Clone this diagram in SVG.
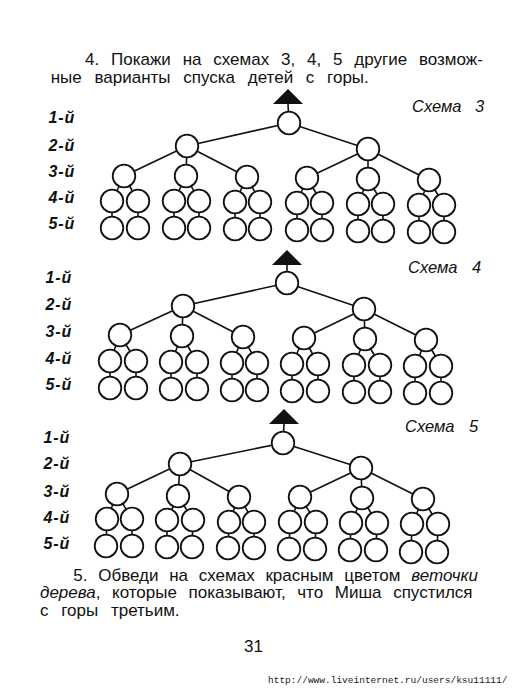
<svg xmlns="http://www.w3.org/2000/svg" width="530" height="699" viewBox="0 0 530 699">
<style>
.n{fill:#fff;stroke:#111;stroke-width:1.8}
.e{stroke:#111;stroke-width:1.6;fill:none}
.tri{fill:#111}
.t{font-family:"Liberation Sans",Arial,sans-serif;font-size:17px;fill:#111}
.i{font-style:italic}
.lv{font-family:"Liberation Sans",Arial,sans-serif;font-size:16px;font-weight:bold;font-style:italic;letter-spacing:0.8px;text-anchor:end;fill:#111}
.sch{font-family:"Liberation Sans",Arial,sans-serif;font-size:16.5px;font-style:italic;fill:#111}
.url{font-family:"Liberation Mono","Courier New",monospace;font-size:9.5px;fill:#222}
</style>
<rect width="530" height="699" fill="#fff"/>

<!-- texts -->
<g id="texts">
<text class="t" x="85" y="65" word-spacing="7.1">4. Покажи на схемах 3, 4, 5 другие возмож-</text>
<text class="t" x="50.7" y="82.5" word-spacing="8">ные варианты спуска детей с горы.</text>
<text class="t" x="73.3" y="581" word-spacing="6">5. Обведи на схемах красным цветом <tspan class="i">веточки</tspan></text>
<text class="t" x="40" y="598" word-spacing="6.9"><tspan class="i">дерева</tspan>, которые показывают, что Миша спустился</text>
<text class="t" x="40" y="616" word-spacing="8">с горы  третьим.</text>
<text class="t" x="244" y="652">31</text>
<text class="url" x="268" y="683">http://www.liveinternet.ru/users/ksu11111/</text>
</g>

<!-- level labels -->
<g id="labels">
<text class="lv" x="75" y="123">1-й</text>
<text class="lv" x="75" y="151">2-й</text>
<text class="lv" x="75" y="177">3-й</text>
<text class="lv" x="75" y="203">4-й</text>
<text class="lv" x="75" y="229">5-й</text>
<text class="lv" x="72" y="283">1-й</text>
<text class="lv" x="72" y="310">2-й</text>
<text class="lv" x="72" y="337">3-й</text>
<text class="lv" x="72" y="364">4-й</text>
<text class="lv" x="72" y="390">5-й</text>
<text class="lv" x="70" y="443">1-й</text>
<text class="lv" x="70" y="469">2-й</text>
<text class="lv" x="70" y="497">3-й</text>
<text class="lv" x="70" y="523">4-й</text>
<text class="lv" x="70" y="549">5-й</text>
<text class="sch" x="412" y="112">Схема<tspan x="475">3</tspan></text>
<text class="sch" x="408" y="273">Схема<tspan x="472">4</tspan></text>
<text class="sch" x="405" y="432">Схема<tspan x="469">5</tspan></text>
</g>

<!-- connectors -->
<g id="connectors" class="e">
<!-- scheme 3 -->
<line x1="288" y1="104" x2="289" y2="123"/>
<line x1="289" y1="123" x2="187" y2="146"/>
<line x1="289" y1="123" x2="368" y2="149"/>
<line x1="187" y1="146" x2="124" y2="176"/>
<line x1="187" y1="146" x2="186" y2="176"/>
<line x1="187" y1="146" x2="247" y2="177"/>
<line x1="368" y1="149" x2="307" y2="178"/>
<line x1="368" y1="149" x2="368" y2="179"/>
<line x1="368" y1="149" x2="429" y2="180"/>
<line x1="124" y1="176" x2="112" y2="201"/>
<line x1="124" y1="176" x2="138" y2="201"/>
<line x1="186" y1="176" x2="174" y2="201"/>
<line x1="186" y1="176" x2="199" y2="201"/>
<line x1="247" y1="177" x2="235" y2="202"/>
<line x1="247" y1="177" x2="260" y2="202"/>
<line x1="307" y1="178" x2="297" y2="203"/>
<line x1="307" y1="178" x2="322" y2="203"/>
<line x1="368" y1="179" x2="358" y2="204"/>
<line x1="368" y1="179" x2="383" y2="204"/>
<line x1="429" y1="180" x2="419" y2="205"/>
<line x1="429" y1="180" x2="444" y2="205"/>
<line x1="112" y1="201" x2="112" y2="228"/>
<line x1="138" y1="201" x2="138" y2="228"/>
<line x1="174" y1="201" x2="174" y2="228"/>
<line x1="199" y1="201" x2="199" y2="228"/>
<line x1="235" y1="202" x2="235" y2="229"/>
<line x1="260" y1="202" x2="260" y2="229"/>
<line x1="297" y1="203" x2="297" y2="230"/>
<line x1="322" y1="203" x2="322" y2="230"/>
<line x1="358" y1="204" x2="358" y2="231"/>
<line x1="383" y1="204" x2="383" y2="231"/>
<line x1="419" y1="205" x2="419" y2="232"/>
<line x1="444" y1="205" x2="444" y2="232"/>
<!-- scheme 4 -->
<line x1="287" y1="265" x2="287" y2="283"/>
<line x1="287" y1="283" x2="183" y2="306"/>
<line x1="287" y1="283" x2="364" y2="309"/>
<line x1="183" y1="306" x2="120" y2="335"/>
<line x1="183" y1="306" x2="182" y2="336"/>
<line x1="183" y1="306" x2="243" y2="337"/>
<line x1="364" y1="309" x2="304" y2="338"/>
<line x1="364" y1="309" x2="365" y2="339"/>
<line x1="364" y1="309" x2="426" y2="340"/>
<line x1="120" y1="335" x2="110" y2="361"/>
<line x1="120" y1="335" x2="136" y2="361"/>
<line x1="182" y1="336" x2="171" y2="362"/>
<line x1="182" y1="336" x2="197" y2="362"/>
<line x1="243" y1="337" x2="232" y2="363"/>
<line x1="243" y1="337" x2="257" y2="363"/>
<line x1="304" y1="338" x2="292" y2="364"/>
<line x1="304" y1="338" x2="318" y2="364"/>
<line x1="365" y1="339" x2="354" y2="365"/>
<line x1="365" y1="339" x2="380" y2="365"/>
<line x1="426" y1="340" x2="415" y2="366"/>
<line x1="426" y1="340" x2="441" y2="366"/>
<line x1="110" y1="361" x2="110" y2="388"/>
<line x1="136" y1="361" x2="136" y2="388"/>
<line x1="171" y1="362" x2="171" y2="389"/>
<line x1="197" y1="362" x2="197" y2="389"/>
<line x1="232" y1="363" x2="232" y2="390"/>
<line x1="257" y1="363" x2="257" y2="390"/>
<line x1="292" y1="364" x2="292" y2="391"/>
<line x1="318" y1="364" x2="318" y2="391"/>
<line x1="354" y1="365" x2="354" y2="392"/>
<line x1="380" y1="365" x2="380" y2="392"/>
<line x1="415" y1="366" x2="415" y2="393"/>
<line x1="441" y1="366" x2="441" y2="393"/>
<!-- scheme 5 -->
<line x1="284" y1="424" x2="283" y2="443"/>
<line x1="283" y1="443" x2="180" y2="464"/>
<line x1="283" y1="443" x2="361" y2="468"/>
<line x1="180" y1="464" x2="117" y2="494"/>
<line x1="180" y1="464" x2="178" y2="496"/>
<line x1="180" y1="464" x2="239" y2="497"/>
<line x1="361" y1="468" x2="300" y2="497"/>
<line x1="361" y1="468" x2="362" y2="498"/>
<line x1="361" y1="468" x2="423" y2="499"/>
<line x1="117" y1="494" x2="107" y2="519"/>
<line x1="117" y1="494" x2="132" y2="519"/>
<line x1="178" y1="496" x2="167" y2="520"/>
<line x1="178" y1="496" x2="193" y2="520"/>
<line x1="239" y1="497" x2="229" y2="522"/>
<line x1="239" y1="497" x2="254" y2="522"/>
<line x1="300" y1="497" x2="290" y2="522"/>
<line x1="300" y1="497" x2="316" y2="522"/>
<line x1="362" y1="498" x2="351" y2="523"/>
<line x1="362" y1="498" x2="377" y2="523"/>
<line x1="423" y1="499" x2="412" y2="524"/>
<line x1="423" y1="499" x2="438" y2="524"/>
<line x1="107" y1="519" x2="106" y2="546"/>
<line x1="132" y1="519" x2="132" y2="546"/>
<line x1="167" y1="520" x2="167" y2="547"/>
<line x1="193" y1="520" x2="192" y2="547"/>
<line x1="229" y1="522" x2="228" y2="548"/>
<line x1="254" y1="522" x2="254" y2="548"/>
<line x1="290" y1="522" x2="289" y2="549"/>
<line x1="316" y1="522" x2="315" y2="549"/>
<line x1="351" y1="523" x2="350" y2="550"/>
<line x1="377" y1="523" x2="376" y2="550"/>
<line x1="412" y1="524" x2="411" y2="552"/>
<line x1="438" y1="524" x2="437" y2="552"/>
</g>

<!-- scheme 3 nodes -->
<g id="s3-top"><polygon class="tri" points="288,89 273,104 303,104"/></g>
<g id="s3-r"><circle class="n" cx="289" cy="123" r="11.3"/></g>
<g id="s3-a"><circle class="n" cx="187" cy="146" r="11.3"/></g>
<g id="s3-b"><circle class="n" cx="368" cy="149" r="11.3"/></g>
<g id="s3-a1"><circle class="n" cx="124" cy="176" r="11.3"/></g>
<g id="s3-a2"><circle class="n" cx="186" cy="176" r="11.3"/></g>
<g id="s3-a3"><circle class="n" cx="247" cy="177" r="11.3"/></g>
<g id="s3-b1"><circle class="n" cx="307" cy="178" r="11.3"/></g>
<g id="s3-b2"><circle class="n" cx="368" cy="179" r="11.3"/></g>
<g id="s3-b3"><circle class="n" cx="429" cy="180" r="11.3"/></g>
<g id="s3-a1l"><circle class="n" cx="112" cy="201" r="11.3"/></g>
<g id="s3-a1r"><circle class="n" cx="138" cy="201" r="11.3"/></g>
<g id="s3-a2l"><circle class="n" cx="174" cy="201" r="11.3"/></g>
<g id="s3-a2r"><circle class="n" cx="199" cy="201" r="11.3"/></g>
<g id="s3-a3l"><circle class="n" cx="235" cy="202" r="11.3"/></g>
<g id="s3-a3r"><circle class="n" cx="260" cy="202" r="11.3"/></g>
<g id="s3-b1l"><circle class="n" cx="297" cy="203" r="11.3"/></g>
<g id="s3-b1r"><circle class="n" cx="322" cy="203" r="11.3"/></g>
<g id="s3-b2l"><circle class="n" cx="358" cy="204" r="11.3"/></g>
<g id="s3-b2r"><circle class="n" cx="383" cy="204" r="11.3"/></g>
<g id="s3-b3l"><circle class="n" cx="419" cy="205" r="11.3"/></g>
<g id="s3-b3r"><circle class="n" cx="444" cy="205" r="11.3"/></g>
<g id="s3-a1l5"><circle class="n" cx="112" cy="228" r="11.3"/></g>
<g id="s3-a1r5"><circle class="n" cx="138" cy="228" r="11.3"/></g>
<g id="s3-a2l5"><circle class="n" cx="174" cy="228" r="11.3"/></g>
<g id="s3-a2r5"><circle class="n" cx="199" cy="228" r="11.3"/></g>
<g id="s3-a3l5"><circle class="n" cx="235" cy="229" r="11.3"/></g>
<g id="s3-a3r5"><circle class="n" cx="260" cy="229" r="11.3"/></g>
<g id="s3-b1l5"><circle class="n" cx="297" cy="230" r="11.3"/></g>
<g id="s3-b1r5"><circle class="n" cx="322" cy="230" r="11.3"/></g>
<g id="s3-b2l5"><circle class="n" cx="358" cy="231" r="11.3"/></g>
<g id="s3-b2r5"><circle class="n" cx="383" cy="231" r="11.3"/></g>
<g id="s3-b3l5"><circle class="n" cx="419" cy="232" r="11.3"/></g>
<g id="s3-b3r5"><circle class="n" cx="444" cy="232" r="11.3"/></g>

<!-- scheme 4 nodes -->
<g id="s4-top"><polygon class="tri" points="287,250 272,265 302,265"/></g>
<g id="s4-r"><circle class="n" cx="287" cy="283" r="11.3"/></g>
<g id="s4-a"><circle class="n" cx="183" cy="306" r="11.3"/></g>
<g id="s4-b"><circle class="n" cx="364" cy="309" r="11.3"/></g>
<g id="s4-a1"><circle class="n" cx="120" cy="335" r="11.3"/></g>
<g id="s4-a2"><circle class="n" cx="182" cy="336" r="11.3"/></g>
<g id="s4-a3"><circle class="n" cx="243" cy="337" r="11.3"/></g>
<g id="s4-b1"><circle class="n" cx="304" cy="338" r="11.3"/></g>
<g id="s4-b2"><circle class="n" cx="365" cy="339" r="11.3"/></g>
<g id="s4-b3"><circle class="n" cx="426" cy="340" r="11.3"/></g>
<g id="s4-a1l"><circle class="n" cx="110" cy="361" r="11.3"/></g>
<g id="s4-a1r"><circle class="n" cx="136" cy="361" r="11.3"/></g>
<g id="s4-a2l"><circle class="n" cx="171" cy="362" r="11.3"/></g>
<g id="s4-a2r"><circle class="n" cx="197" cy="362" r="11.3"/></g>
<g id="s4-a3l"><circle class="n" cx="232" cy="363" r="11.3"/></g>
<g id="s4-a3r"><circle class="n" cx="257" cy="363" r="11.3"/></g>
<g id="s4-b1l"><circle class="n" cx="292" cy="364" r="11.3"/></g>
<g id="s4-b1r"><circle class="n" cx="318" cy="364" r="11.3"/></g>
<g id="s4-b2l"><circle class="n" cx="354" cy="365" r="11.3"/></g>
<g id="s4-b2r"><circle class="n" cx="380" cy="365" r="11.3"/></g>
<g id="s4-b3l"><circle class="n" cx="415" cy="366" r="11.3"/></g>
<g id="s4-b3r"><circle class="n" cx="441" cy="366" r="11.3"/></g>
<g id="s4-a1l5"><circle class="n" cx="110" cy="388" r="11.3"/></g>
<g id="s4-a1r5"><circle class="n" cx="136" cy="388" r="11.3"/></g>
<g id="s4-a2l5"><circle class="n" cx="171" cy="389" r="11.3"/></g>
<g id="s4-a2r5"><circle class="n" cx="197" cy="389" r="11.3"/></g>
<g id="s4-a3l5"><circle class="n" cx="232" cy="390" r="11.3"/></g>
<g id="s4-a3r5"><circle class="n" cx="257" cy="390" r="11.3"/></g>
<g id="s4-b1l5"><circle class="n" cx="292" cy="391" r="11.3"/></g>
<g id="s4-b1r5"><circle class="n" cx="318" cy="391" r="11.3"/></g>
<g id="s4-b2l5"><circle class="n" cx="354" cy="392" r="11.3"/></g>
<g id="s4-b2r5"><circle class="n" cx="380" cy="392" r="11.3"/></g>
<g id="s4-b3l5"><circle class="n" cx="415" cy="393" r="11.3"/></g>
<g id="s4-b3r5"><circle class="n" cx="441" cy="393" r="11.3"/></g>

<!-- scheme 5 nodes -->
<g id="s5-top"><polygon class="tri" points="284,409 269,424 299,424"/></g>
<g id="s5-r"><circle class="n" cx="283" cy="443" r="11.3"/></g>
<g id="s5-a"><circle class="n" cx="180" cy="464" r="11.3"/></g>
<g id="s5-b"><circle class="n" cx="361" cy="468" r="11.3"/></g>
<g id="s5-a1"><circle class="n" cx="117" cy="494" r="11.3"/></g>
<g id="s5-a2"><circle class="n" cx="178" cy="496" r="11.3"/></g>
<g id="s5-a3"><circle class="n" cx="239" cy="497" r="11.3"/></g>
<g id="s5-b1"><circle class="n" cx="300" cy="497" r="11.3"/></g>
<g id="s5-b2"><circle class="n" cx="362" cy="498" r="11.3"/></g>
<g id="s5-b3"><circle class="n" cx="423" cy="499" r="11.3"/></g>
<g id="s5-a1l"><circle class="n" cx="107" cy="519" r="11.3"/></g>
<g id="s5-a1r"><circle class="n" cx="132" cy="519" r="11.3"/></g>
<g id="s5-a2l"><circle class="n" cx="167" cy="520" r="11.3"/></g>
<g id="s5-a2r"><circle class="n" cx="193" cy="520" r="11.3"/></g>
<g id="s5-a3l"><circle class="n" cx="229" cy="522" r="11.3"/></g>
<g id="s5-a3r"><circle class="n" cx="254" cy="522" r="11.3"/></g>
<g id="s5-b1l"><circle class="n" cx="290" cy="522" r="11.3"/></g>
<g id="s5-b1r"><circle class="n" cx="316" cy="522" r="11.3"/></g>
<g id="s5-b2l"><circle class="n" cx="351" cy="523" r="11.3"/></g>
<g id="s5-b2r"><circle class="n" cx="377" cy="523" r="11.3"/></g>
<g id="s5-b3l"><circle class="n" cx="412" cy="524" r="11.3"/></g>
<g id="s5-b3r"><circle class="n" cx="438" cy="524" r="11.3"/></g>
<g id="s5-a1l5"><circle class="n" cx="106" cy="546" r="11.3"/></g>
<g id="s5-a1r5"><circle class="n" cx="132" cy="546" r="11.3"/></g>
<g id="s5-a2l5"><circle class="n" cx="167" cy="547" r="11.3"/></g>
<g id="s5-a2r5"><circle class="n" cx="192" cy="547" r="11.3"/></g>
<g id="s5-a3l5"><circle class="n" cx="228" cy="548" r="11.3"/></g>
<g id="s5-a3r5"><circle class="n" cx="254" cy="548" r="11.3"/></g>
<g id="s5-b1l5"><circle class="n" cx="289" cy="549" r="11.3"/></g>
<g id="s5-b1r5"><circle class="n" cx="315" cy="549" r="11.3"/></g>
<g id="s5-b2l5"><circle class="n" cx="350" cy="550" r="11.3"/></g>
<g id="s5-b2r5"><circle class="n" cx="376" cy="550" r="11.3"/></g>
<g id="s5-b3l5"><circle class="n" cx="411" cy="552" r="11.3"/></g>
<g id="s5-b3r5"><circle class="n" cx="437" cy="552" r="11.3"/></g>
</svg>
